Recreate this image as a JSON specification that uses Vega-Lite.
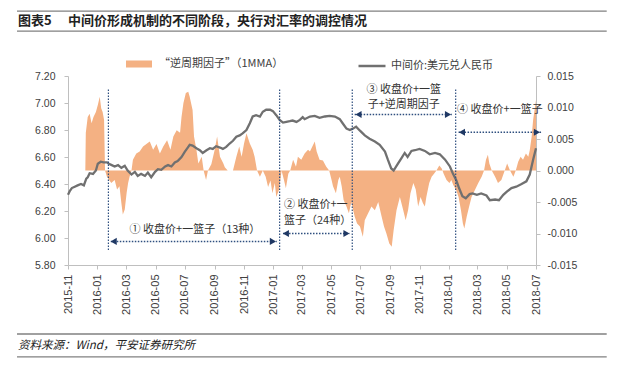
{
  "$schema": "https://vega.github.io/schema/vega-lite/v6.json",
  "width": 468,
  "height": 189,
  "autosize": {"type": "none"},
  "padding": {"left": 68, "top": 76, "right": 84, "bottom": 102},
  "background": "white",
  "config": {"view": {"stroke": null}},
  "datasets": {
    "cny": [
      {"date":"2015-11-01","v":6.32},{"date":"2015-11-05","v":6.35},{"date":"2015-11-09","v":6.37},{"date":"2015-11-15","v":6.38},{"date":"2015-11-21","v":6.39},{"date":"2015-11-28","v":6.40},{"date":"2015-12-04","v":6.39},{"date":"2015-12-09","v":6.44},{"date":"2015-12-12","v":6.45},{"date":"2015-12-16","v":6.48},{"date":"2015-12-23","v":6.475},{"date":"2015-12-29","v":6.50},
      {"date":"2016-01-02","v":6.55},{"date":"2016-01-08","v":6.565},{"date":"2016-01-14","v":6.56},{"date":"2016-01-21","v":6.56},{"date":"2016-01-25","v":6.55},{"date":"2016-01-31","v":6.54},{"date":"2016-02-06","v":6.53},{"date":"2016-02-13","v":6.54},{"date":"2016-02-20","v":6.52},{"date":"2016-02-27","v":6.535},{"date":"2016-03-04","v":6.50},{"date":"2016-03-12","v":6.47},{"date":"2016-03-19","v":6.49},{"date":"2016-03-25","v":6.46},{"date":"2016-04-01","v":6.475},{"date":"2016-04-09","v":6.46},{"date":"2016-04-15","v":6.485},{"date":"2016-04-22","v":6.45},{"date":"2016-04-30","v":6.49},{"date":"2016-05-06","v":6.51},{"date":"2016-05-13","v":6.505},{"date":"2016-05-21","v":6.53},{"date":"2016-05-27","v":6.54},{"date":"2016-06-03","v":6.53},{"date":"2016-06-10","v":6.56},{"date":"2016-06-16","v":6.57},{"date":"2016-06-24","v":6.60},{"date":"2016-07-01","v":6.64},{"date":"2016-07-07","v":6.67},{"date":"2016-07-11","v":6.69},{"date":"2016-07-17","v":6.685},{"date":"2016-07-25","v":6.665},{"date":"2016-08-01","v":6.65},{"date":"2016-08-07","v":6.63},{"date":"2016-08-15","v":6.65},{"date":"2016-08-22","v":6.665},{"date":"2016-08-28","v":6.66},{"date":"2016-09-04","v":6.68},{"date":"2016-09-12","v":6.67},{"date":"2016-09-18","v":6.66},{"date":"2016-09-25","v":6.675},{"date":"2016-10-02","v":6.70},{"date":"2016-10-09","v":6.72},{"date":"2016-10-16","v":6.75},{"date":"2016-10-23","v":6.76},{"date":"2016-10-29","v":6.775},{"date":"2016-11-06","v":6.80},{"date":"2016-11-13","v":6.85},{"date":"2016-11-19","v":6.90},{"date":"2016-11-26","v":6.91},{"date":"2016-12-04","v":6.90},{"date":"2016-12-10","v":6.935},{"date":"2016-12-17","v":6.95},{"date":"2016-12-25","v":6.95},{"date":"2016-12-31","v":6.94},
      {"date":"2017-01-07","v":6.91},{"date":"2017-01-14","v":6.875},{"date":"2017-01-21","v":6.855},{"date":"2017-01-28","v":6.86},{"date":"2017-02-04","v":6.865},{"date":"2017-02-10","v":6.87},{"date":"2017-02-18","v":6.86},{"date":"2017-02-25","v":6.875},{"date":"2017-03-03","v":6.895},{"date":"2017-03-07","v":6.88},{"date":"2017-03-18","v":6.90},{"date":"2017-03-28","v":6.905},{"date":"2017-04-07","v":6.89},{"date":"2017-04-18","v":6.90},{"date":"2017-04-28","v":6.905},{"date":"2017-05-09","v":6.90},{"date":"2017-05-19","v":6.88},{"date":"2017-05-25","v":6.85},{"date":"2017-06-02","v":6.81},{"date":"2017-06-09","v":6.80},{"date":"2017-06-15","v":6.81},{"date":"2017-06-22","v":6.825},{"date":"2017-06-30","v":6.795},{"date":"2017-07-10","v":6.76},{"date":"2017-07-20","v":6.735},{"date":"2017-07-31","v":6.715},{"date":"2017-08-10","v":6.69},{"date":"2017-08-21","v":6.64},{"date":"2017-08-27","v":6.58},{"date":"2017-09-03","v":6.515},{"date":"2017-09-08","v":6.50},{"date":"2017-09-15","v":6.54},{"date":"2017-09-24","v":6.59},{"date":"2017-10-01","v":6.63},{"date":"2017-10-07","v":6.60},{"date":"2017-10-15","v":6.645},{"date":"2017-10-22","v":6.65},{"date":"2017-11-01","v":6.66},{"date":"2017-11-12","v":6.645},{"date":"2017-11-22","v":6.62},{"date":"2017-12-03","v":6.63},{"date":"2017-12-13","v":6.62},{"date":"2017-12-24","v":6.58},
      {"date":"2018-01-03","v":6.53},{"date":"2018-01-09","v":6.48},{"date":"2018-01-16","v":6.43},{"date":"2018-01-22","v":6.37},{"date":"2018-01-29","v":6.31},{"date":"2018-02-05","v":6.295},{"date":"2018-02-13","v":6.325},{"date":"2018-02-19","v":6.33},{"date":"2018-02-28","v":6.32},{"date":"2018-03-09","v":6.33},{"date":"2018-03-20","v":6.315},{"date":"2018-03-27","v":6.28},{"date":"2018-04-07","v":6.285},{"date":"2018-04-15","v":6.28},{"date":"2018-04-24","v":6.32},{"date":"2018-05-02","v":6.345},{"date":"2018-05-11","v":6.37},{"date":"2018-05-21","v":6.38},{"date":"2018-06-01","v":6.40},{"date":"2018-06-11","v":6.42},{"date":"2018-06-18","v":6.47},{"date":"2018-06-25","v":6.58},{"date":"2018-07-01","v":6.665}
    ],
    "ccf": [
      {"date":"2015-12-07","v":0},{"date":"2015-12-08","v":0.006},{"date":"2015-12-12","v":0.0085},{"date":"2015-12-16","v":0.009},{"date":"2015-12-20","v":0.0075},{"date":"2015-12-24","v":0.0085},{"date":"2015-12-29","v":0.0093},
      {"date":"2016-01-02","v":0.0104},{"date":"2016-01-06","v":0.0117},{"date":"2016-01-09","v":0.0099},{"date":"2016-01-12","v":0.0093},{"date":"2016-01-15","v":0.008},{"date":"2016-01-17","v":0},{"date":"2016-01-21","v":-0.001},{"date":"2016-01-30","v":-0.002},{"date":"2016-02-06","v":-0.0015},{"date":"2016-02-11","v":-0.003},{"date":"2016-02-16","v":-0.0025},{"date":"2016-02-20","v":-0.0052},{"date":"2016-02-23","v":-0.007},{"date":"2016-02-27","v":-0.0062},{"date":"2016-03-02","v":-0.0035},{"date":"2016-03-05","v":-0.002},{"date":"2016-03-08","v":-0.001},{"date":"2016-03-12","v":0},{"date":"2016-03-15","v":0.0017},{"date":"2016-03-22","v":0.0027},{"date":"2016-03-29","v":0.003},{"date":"2016-04-05","v":0.0038},{"date":"2016-04-12","v":0.0042},{"date":"2016-04-19","v":0.0046},{"date":"2016-04-26","v":0.0033},{"date":"2016-05-03","v":0.0042},{"date":"2016-05-10","v":0.0027},{"date":"2016-05-17","v":0.0038},{"date":"2016-05-25","v":0.0048},{"date":"2016-06-01","v":0.0033},{"date":"2016-06-07","v":0.0054},{"date":"2016-06-14","v":0.0064},{"date":"2016-06-21","v":0.006},{"date":"2016-06-24","v":0.0085},{"date":"2016-06-28","v":0.0107},{"date":"2016-07-03","v":0.0123},{"date":"2016-07-08","v":0.0125},{"date":"2016-07-11","v":0.0117},{"date":"2016-07-17","v":0.0096},{"date":"2016-07-20","v":0.0054},{"date":"2016-07-25","v":0.0033},{"date":"2016-07-29","v":0.0011},{"date":"2016-08-05","v":0.0022},{"date":"2016-08-09","v":0},{"date":"2016-08-14","v":-0.0015},{"date":"2016-08-18","v":0},{"date":"2016-08-25","v":0.001},{"date":"2016-09-01","v":0.0033},{"date":"2016-09-06","v":0.0054},{"date":"2016-09-12","v":0.0022},{"date":"2016-09-19","v":0.0011},{"date":"2016-09-22","v":0.0005},{"date":"2016-09-28","v":0},{"date":"2016-10-09","v":0},{"date":"2016-10-16","v":0.0022},{"date":"2016-10-22","v":0.0038},{"date":"2016-10-27","v":0.0022},{"date":"2016-11-01","v":0.0043},{"date":"2016-11-06","v":0.0059},{"date":"2016-11-13","v":0.0043},{"date":"2016-11-19","v":0.0033},{"date":"2016-11-23","v":0.0022},{"date":"2016-11-28","v":0},{"date":"2016-12-04","v":-0.001},{"date":"2016-12-10","v":0},{"date":"2016-12-16","v":-0.001},{"date":"2016-12-21","v":-0.0026},{"date":"2016-12-26","v":-0.0016},{"date":"2016-12-30","v":-0.0036},
      {"date":"2017-01-04","v":-0.002},{"date":"2017-01-07","v":-0.0042},{"date":"2017-01-13","v":-0.003},{"date":"2017-01-18","v":0},{"date":"2017-01-23","v":-0.0015},{"date":"2017-01-27","v":-0.0028},{"date":"2017-02-01","v":-0.0005},{"date":"2017-02-05","v":0},{"date":"2017-02-11","v":0.0017},{"date":"2017-02-17","v":0.0006},{"date":"2017-02-21","v":0.0022},{"date":"2017-02-28","v":0.0017},{"date":"2017-03-07","v":0.0027},{"date":"2017-03-14","v":0.0033},{"date":"2017-03-18","v":0.003},{"date":"2017-03-23","v":0.0038},{"date":"2017-03-28","v":0.0046},{"date":"2017-04-01","v":0.003},{"date":"2017-04-07","v":0.0017},{"date":"2017-04-14","v":0.0016},{"date":"2017-04-21","v":0.0006},{"date":"2017-04-27","v":0},{"date":"2017-05-02","v":-0.0015},{"date":"2017-05-05","v":-0.0025},{"date":"2017-05-11","v":-0.0036},{"date":"2017-05-16","v":-0.0015},{"date":"2017-05-19","v":-0.001},{"date":"2017-05-23","v":-0.0025},{"date":"2017-05-27","v":-0.0047},{"date":"2017-06-02","v":-0.0057},{"date":"2017-06-07","v":-0.0068},{"date":"2017-06-12","v":-0.005},{"date":"2017-06-19","v":-0.0073},{"date":"2017-06-24","v":-0.0084},{"date":"2017-06-30","v":-0.0089},{"date":"2017-07-06","v":-0.0105},{"date":"2017-07-10","v":-0.0079},{"date":"2017-07-17","v":-0.0068},{"date":"2017-07-24","v":-0.0057},{"date":"2017-07-31","v":-0.0063},{"date":"2017-08-07","v":-0.005},{"date":"2017-08-14","v":-0.0073},{"date":"2017-08-19","v":-0.0089},{"date":"2017-08-24","v":-0.01},{"date":"2017-08-30","v":-0.0116},{"date":"2017-09-04","v":-0.0121},{"date":"2017-09-08","v":-0.0095},{"date":"2017-09-14","v":-0.0063},{"date":"2017-09-21","v":-0.0042},{"date":"2017-09-28","v":-0.0063},{"date":"2017-10-03","v":-0.0079},{"date":"2017-10-08","v":-0.0063},{"date":"2017-10-13","v":-0.0036},{"date":"2017-10-19","v":-0.002},{"date":"2017-10-24","v":-0.003},{"date":"2017-10-29","v":-0.0057},{"date":"2017-11-03","v":-0.0042},{"date":"2017-11-08","v":-0.0052},{"date":"2017-11-12","v":-0.0057},{"date":"2017-11-15","v":-0.0042},{"date":"2017-11-21","v":-0.002},{"date":"2017-11-26","v":-0.001},{"date":"2017-12-01","v":-0.0005},{"date":"2017-12-06","v":0},{"date":"2017-12-12","v":0.0008},{"date":"2017-12-17","v":0.0003},{"date":"2017-12-21","v":-0.0005},{"date":"2017-12-27","v":-0.0015},
      {"date":"2018-01-02","v":-0.002},{"date":"2018-01-06","v":-0.0015},{"date":"2018-01-10","v":-0.0023},{"date":"2018-01-16","v":-0.0031},{"date":"2018-01-21","v":-0.0042},{"date":"2018-01-26","v":-0.0063},{"date":"2018-01-30","v":-0.0084},{"date":"2018-02-02","v":-0.0092},{"date":"2018-02-07","v":-0.0073},{"date":"2018-02-12","v":-0.0057},{"date":"2018-02-17","v":-0.0042},{"date":"2018-02-24","v":-0.0031},{"date":"2018-03-03","v":-0.002},{"date":"2018-03-10","v":-0.001},{"date":"2018-03-15","v":0},{"date":"2018-03-19","v":0.0017},{"date":"2018-03-23","v":0.0025},{"date":"2018-03-26","v":0.0011},{"date":"2018-03-31","v":0},{"date":"2018-04-07","v":-0.001},{"date":"2018-04-13","v":-0.002},{"date":"2018-04-20","v":-0.0015},{"date":"2018-04-27","v":0},{"date":"2018-05-02","v":0.0011},{"date":"2018-05-08","v":0},{"date":"2018-05-15","v":-0.001},{"date":"2018-05-20","v":0},{"date":"2018-05-25","v":0.0014},{"date":"2018-05-30","v":0.0022},{"date":"2018-06-04","v":0.0017},{"date":"2018-06-10","v":0.0027},{"date":"2018-06-15","v":0.0022},{"date":"2018-06-18","v":0.0032},{"date":"2018-06-22","v":0.0054},{"date":"2018-06-25","v":0.008},{"date":"2018-06-29","v":0.0101},{"date":"2018-07-01","v":0.0112}
    ],
    "vlines": [
      {"date":"2016-01-24","y":7.10,"y2":5.91},
      {"date":"2017-01-14","y":7.10,"y2":5.91},
      {"date":"2017-06-14","y":7.10,"y2":5.91},
      {"date":"2018-01-15","y":7.10,"y2":5.91}
    ],
    "arrows": [
      {"date":"2016-01-29","date2":"2017-01-08","y":5.975},
      {"date":"2017-01-21","date2":"2017-06-08","y":6.033},
      {"date":"2017-06-19","date2":"2018-01-07","y":6.915},
      {"date":"2018-01-21","date2":"2018-07-12","y":6.783}
    ],
    "heads": [
      {"date":"2016-02-04","y":5.975,"dir":"left"},{"date":"2016-12-31","y":5.975,"dir":"right"},
      {"date":"2017-01-27","y":6.033,"dir":"left"},{"date":"2017-06-02","y":6.033,"dir":"right"},
      {"date":"2017-06-27","y":6.915,"dir":"left"},{"date":"2017-12-30","y":6.915,"dir":"right"},
      {"date":"2018-01-28","y":6.783,"dir":"left"},{"date":"2018-07-03","y":6.783,"dir":"right"}
    ],
    "notesCenter": [
      {"date":"2016-07-22","y":6.059,"text":"① 收盘价+一篮子（13种）"},
      {"date":"2017-09-29","y":7.10,"text":"③ 收盘价+一篮"},
      {"date":"2017-09-29","y":6.985,"text":"子+逆周期因子"}
    ],
    "notesLeft": [
      {"date":"2017-01-23","y":6.245,"text":"② 收盘价+一"},
      {"date":"2017-01-23","y":6.128,"text":"篮子（24种）"},
      {"date":"2018-01-18","y":6.948,"text":"④ 收盘价+一篮子"}
    ],
    "frame": [
      {"date":"2015-07-18","date2":"2018-11-25","y":7.681},
      {"date":"2015-07-18","date2":"2018-11-25","y":7.533},
      {"date":"2015-07-18","date2":"2018-11-25","y":5.289},
      {"date":"2015-07-18","date2":"2018-11-25","y":5.119}
    ],
    "titles": [
      {"date":"2015-07-20","y":7.607,"text":"图表5"},
      {"date":"2015-11-01","y":7.607,"text":"中间价形成机制的不同阶段，央行对汇率的调控情况"}
    ],
    "source": [
      {"date":"2015-07-20","y":5.2,"text":"资料来源：Wind，平安证券研究所"}
    ]
  },
  "encoding": {
    "x": {
      "field": "date",
      "type": "temporal",
      "scale": {"type": "utc", "domain": [{"year": 2015, "month": 11, "date": 1, "utc": true}, {"year": 2018, "month": 7, "date": 1, "utc": true}]},
      "axis": {
        "title": null,
        "grid": false,
        "values": [
          {"year": 2015, "month": 11, "date": 1, "utc": true},
          {"year": 2016, "month": 1, "date": 1, "utc": true},
          {"year": 2016, "month": 3, "date": 1, "utc": true},
          {"year": 2016, "month": 5, "date": 1, "utc": true},
          {"year": 2016, "month": 7, "date": 1, "utc": true},
          {"year": 2016, "month": 9, "date": 1, "utc": true},
          {"year": 2016, "month": 11, "date": 1, "utc": true},
          {"year": 2017, "month": 1, "date": 1, "utc": true},
          {"year": 2017, "month": 3, "date": 1, "utc": true},
          {"year": 2017, "month": 5, "date": 1, "utc": true},
          {"year": 2017, "month": 7, "date": 1, "utc": true},
          {"year": 2017, "month": 9, "date": 1, "utc": true},
          {"year": 2017, "month": 11, "date": 1, "utc": true},
          {"year": 2018, "month": 1, "date": 1, "utc": true},
          {"year": 2018, "month": 3, "date": 1, "utc": true},
          {"year": 2018, "month": 5, "date": 1, "utc": true},
          {"year": 2018, "month": 7, "date": 1, "utc": true}
        ],
        "format": "%Y-%m",
        "labelAngle": 270,
        "labelFont": "Liberation Sans",
        "labelFontSize": 11,
        "labelColor": "#404040",
        "labelOverlap": false,
        "labelFlush": false,
        "labelPadding": 5,
        "tickColor": "#bfbfbf",
        "tickSize": 4,
        "domainColor": "#bfbfbf"
      }
    }
  },
  "layer": [
    {
      "data": {"name": "ccf"},
      "mark": {"type": "area", "interpolate": "linear"},
      "encoding": {
        "y": {
          "field": "v", "type": "quantitative",
          "scale": {"domain": [-0.015, 0.015], "nice": false},
          "axis": {
            "orient": "right", "title": null, "grid": false,
            "values": [-0.015, -0.01, -0.005, 0, 0.005, 0.01, 0.015],
            "format": ".3f",
            "labelExpr": "replace(datum.label, '−', '-')",
            "labelFont": "Liberation Sans", "labelFontSize": 10.5, "labelColor": "#404040",
            "labelPadding": 7, "labelFlush": false,
            "tickColor": "#bfbfbf", "tickSize": 4, "domainColor": "#bfbfbf"
          }
        },
        "y2": {"datum": 0},
        "fill": {
          "datum": "“逆周期因子”（1MMA）", "type": "nominal",
          "scale": {"range": ["#F4B183"]},
          "legend": {
            "orient": "none", "legendX": 58, "legendY": -25, "title": null, "padding": 0,
            "symbolType": "M-1,-0.27H1V0.27H-1Z", "symbolSize": 676, "symbolStrokeWidth": 0,
            "labelFont": "Noto Sans CJK SC", "labelFontSize": 11, "labelColor": "#404040", "labelOffset": 7
          }
        }
      }
    },
    {
      "data": {"name": "cny"},
      "mark": {"type": "line", "strokeWidth": 2.3, "interpolate": "linear"},
      "encoding": {
        "y": {
          "field": "v", "type": "quantitative",
          "scale": {"domain": [5.8, 7.2], "nice": false},
          "axis": {
            "orient": "left", "title": null, "grid": false,
            "values": [5.8, 6.0, 6.2, 6.4, 6.6, 6.8, 7.0, 7.2],
            "format": ".2f",
            "labelFont": "Liberation Sans", "labelFontSize": 10.5, "labelColor": "#404040",
            "labelPadding": 9, "labelFlush": false,
            "tickColor": "#bfbfbf", "tickSize": 4, "domainColor": "#bfbfbf"
          }
        },
        "stroke": {
          "datum": "中间价:美元兑人民币", "type": "nominal",
          "scale": {"range": ["#707070"]},
          "legend": {
            "orient": "none", "legendX": 289, "legendY": -25, "title": null, "padding": 0,
            "symbolType": "stroke", "symbolSize": 729, "symbolStrokeWidth": 2.5,
            "labelFont": "Noto Sans CJK SC", "labelFontSize": 11, "labelColor": "#404040", "labelOffset": 4
          }
        }
      }
    },
    {
      "data": {"name": "vlines"},
      "mark": {"type": "rule", "color": "#2F4F7F", "strokeWidth": 1.2, "strokeDash": [1.5, 1.5]},
      "encoding": {
        "y": {"field": "y", "type": "quantitative", "scale": {"domain": [5.8, 7.2], "nice": false}, "axis": null},
        "y2": {"field": "y2"}
      }
    },
    {
      "data": {"name": "arrows"},
      "mark": {"type": "rule", "color": "#2F4F7F", "strokeWidth": 1.5, "strokeDash": [1.5, 1.5]},
      "encoding": {
        "x2": {"field": "date2"},
        "y": {"field": "y", "type": "quantitative", "scale": {"domain": [5.8, 7.2], "nice": false}, "axis": null}
      }
    },
    {
      "data": {"name": "heads"},
      "mark": {"type": "point", "filled": true, "size": 50, "color": "#1F3864", "opacity": 1},
      "encoding": {
        "y": {"field": "y", "type": "quantitative", "scale": {"domain": [5.8, 7.2], "nice": false}, "axis": null},
        "shape": {"field": "dir", "type": "nominal", "scale": {"domain": ["left", "right"], "range": ["triangle-left", "triangle-right"]}, "legend": null}
      }
    },
    {
      "data": {"name": "notesCenter"},
      "mark": {"type": "text", "font": "Noto Sans CJK SC", "fontSize": 11, "color": "#333333", "align": "center", "baseline": "middle"},
      "encoding": {
        "y": {"field": "y", "type": "quantitative", "scale": {"domain": [5.8, 7.2], "nice": false}, "axis": null},
        "text": {"field": "text"}
      }
    },
    {
      "data": {"name": "notesLeft"},
      "mark": {"type": "text", "font": "Noto Sans CJK SC", "fontSize": 11, "color": "#333333", "align": "left", "baseline": "middle"},
      "encoding": {
        "y": {"field": "y", "type": "quantitative", "scale": {"domain": [5.8, 7.2], "nice": false}, "axis": null},
        "text": {"field": "text"}
      }
    },
    {
      "data": {"name": "frame"},
      "mark": {"type": "rule", "color": "#808080", "strokeWidth": 1.3},
      "encoding": {
        "x2": {"field": "date2"},
        "y": {"field": "y", "type": "quantitative", "scale": {"domain": [5.8, 7.2], "nice": false}, "axis": null}
      }
    },
    {
      "data": {"name": "titles"},
      "mark": {"type": "text", "font": "Noto Sans CJK SC", "fontSize": 13, "fontWeight": "bold", "color": "#222222", "align": "left", "baseline": "middle"},
      "encoding": {
        "y": {"field": "y", "type": "quantitative", "scale": {"domain": [5.8, 7.2], "nice": false}, "axis": null},
        "text": {"field": "text"}
      }
    },
    {
      "data": {"name": "source"},
      "mark": {"type": "text", "font": "Noto Sans CJK SC", "fontSize": 11.5, "fontStyle": "italic", "color": "#222222", "align": "left", "baseline": "middle"},
      "encoding": {
        "y": {"field": "y", "type": "quantitative", "scale": {"domain": [5.8, 7.2], "nice": false}, "axis": null},
        "text": {"field": "text"}
      }
    }
  ],
  "resolve": {"scale": {"y": "independent"}}
}
